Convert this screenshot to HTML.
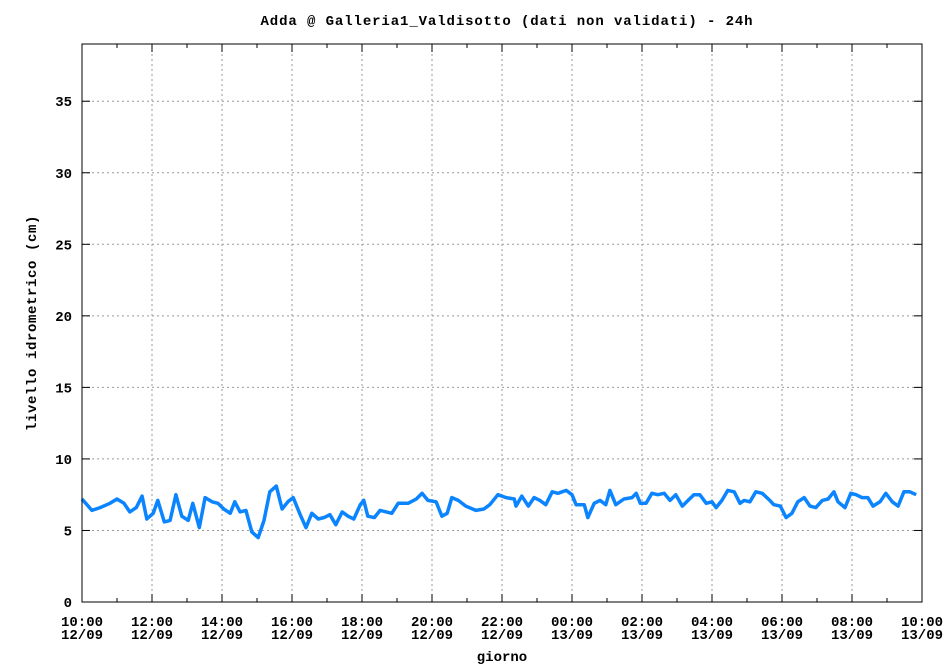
<!DOCTYPE html>
<html><head><meta charset="utf-8"><style>
body{margin:0;background:#fff}
svg text{font-family:"Liberation Mono","DejaVu Sans Mono",monospace;font-size:14px;font-weight:bold;fill:#000}
</style></head><body>
<svg id="chart" width="950" height="666" xmlns="http://www.w3.org/2000/svg">
<rect width="950" height="666" fill="#fff"/>
<text x="507" y="25" text-anchor="middle" style="letter-spacing:0.9px">Adda @ Galleria1_Valdisotto (dati non validati) - 24h</text>
<g id="grid"></g><g id="axes"></g>
<polyline id="series" fill="none" stroke="#0a84ff" stroke-width="3.5" stroke-linejoin="round"/>
<rect x="82" y="44" width="840" height="558" fill="none" stroke="#000" stroke-width="1"/>
<text x="502" y="661" text-anchor="middle">giorno</text>
<text transform="translate(36,323) rotate(-90)" text-anchor="middle" style="letter-spacing:0.6px">livello idrometrico (cm)</text>
</svg>
<script>
const minutes=[0,17,31,48,60,72,82,93,103,111,122,130,141,151,161,171,182,190,201,211,223,233,243,254,262,271,281,291,302,312,322,333,343,353,362,374,384,394,405,415,425,435,446,456,466,477,483,490,501,511,531,542,559,573,583,593,607,617,626,634,645,658,675,689,699,713,727,741,744,754,765,775,785,795,806,816,830,840,847,861,867,878,888,898,905,915,929,943,950,957,967,977,987,998,1008,1018,1029,1039,1049,1059,1070,1080,1087,1097,1107,1118,1128,1135,1145,1155,1166,1179,1186,1197,1207,1217,1227,1238,1248,1258,1269,1279,1289,1296,1308,1318,1327,1337,1347,1356,1368,1378,1389,1399,1409,1419,1430];
const levels=[7.2,6.4,6.6,6.9,7.2,6.9,6.3,6.6,7.4,5.8,6.2,7.1,5.6,5.7,7.5,6.0,5.7,6.9,5.2,7.3,7.0,6.9,6.5,6.2,7.0,6.3,6.4,4.9,4.5,5.7,7.7,8.1,6.5,7.0,7.3,6.1,5.2,6.2,5.8,5.9,6.1,5.4,6.3,6.0,5.8,6.8,7.1,6.0,5.9,6.4,6.2,6.9,6.9,7.2,7.6,7.1,7.0,6.0,6.2,7.3,7.1,6.7,6.4,6.5,6.8,7.5,7.3,7.2,6.7,7.4,6.7,7.3,7.1,6.8,7.7,7.6,7.8,7.5,6.8,6.8,5.9,6.9,7.1,6.8,7.8,6.8,7.2,7.3,7.6,6.9,6.9,7.6,7.5,7.6,7.1,7.5,6.7,7.1,7.5,7.5,6.9,7.0,6.6,7.1,7.8,7.7,6.9,7.1,7.0,7.7,7.6,7.1,6.8,6.7,5.9,6.2,7.0,7.3,6.7,6.6,7.1,7.2,7.7,7.0,6.6,7.6,7.5,7.3,7.3,6.7,7.0,7.6,7.0,6.7,7.7,7.7,7.5];
const yTicks=[0,5,10,15,20,25,30,35];
const xTimeLabels=["10:00","12:00","14:00","16:00","18:00","20:00","22:00","00:00","02:00","04:00","06:00","08:00","10:00"];
const xDateLabels=["12/09","12/09","12/09","12/09","12/09","12/09","12/09","13/09","13/09","13/09","13/09","13/09","13/09"];
const X0=82,X1=922,Y0=602,Y1=44,YMAX=39,TMAX=1440;
const sx=m=>X0+(X1-X0)*m/TMAX, sy=v=>Y0-(Y0-Y1)*v/YMAX;
const NS="http://www.w3.org/2000/svg";
const grid=document.getElementById('grid'),axes=document.getElementById('axes');
function mk(tag,attrs,parent){const e=document.createElementNS(NS,tag);for(const k in attrs)e.setAttribute(k,attrs[k]);parent.appendChild(e);return e;}
yTicks.forEach(v=>{const y=sy(v);
 if(v>0){const g=mk('line',{x1:X0,x2:X1,y1:y,y2:y,stroke:'#999','stroke-dasharray':'2,3'},grid);
 
 }
 mk('line',{x1:X0,x2:X0+8,y1:y,y2:y,stroke:'#000'},axes);
 mk('line',{x1:X1-8,x2:X1,y1:y,y2:y,stroke:'#000'},axes);
 const t=mk('text',{x:72,y:y+5,'text-anchor':'end'},axes);t.textContent=v;
 
 
});
for(let h=1;h<24;h+=2){const x=sx(h*60);
 mk('line',{x1:x,x2:x,y1:Y0,y2:Y0-4,stroke:'#000'},axes);mk('line',{x1:x,x2:x,y1:Y1,y2:Y1+4,stroke:'#000'},axes);}
xTimeLabels.forEach((l,i)=>{const x=sx(i*120);
 if(i>0&&i<12){const g=mk('line',{x1:x,x2:x,y1:Y1,y2:Y0,stroke:'#999','stroke-dasharray':'2,3'},grid);
 
 }
 mk('line',{x1:x,x2:x,y1:Y0,y2:Y0-8,stroke:'#000'},axes);mk('line',{x1:x,x2:x,y1:Y1,y2:Y1+8,stroke:'#000'},axes);
 const t=mk('text',{x:x,y:626,'text-anchor':'middle'},axes);t.textContent=l;
 
 
 const d=mk('text',{x:x,y:639,'text-anchor':'middle'},axes);d.textContent=xDateLabels[i];
 
 
});
document.getElementById('series').setAttribute('points',minutes.map((m,i)=>sx(m).toFixed(1)+','+sy(levels[i]).toFixed(1)).join(' '));
</script>
</body></html>
